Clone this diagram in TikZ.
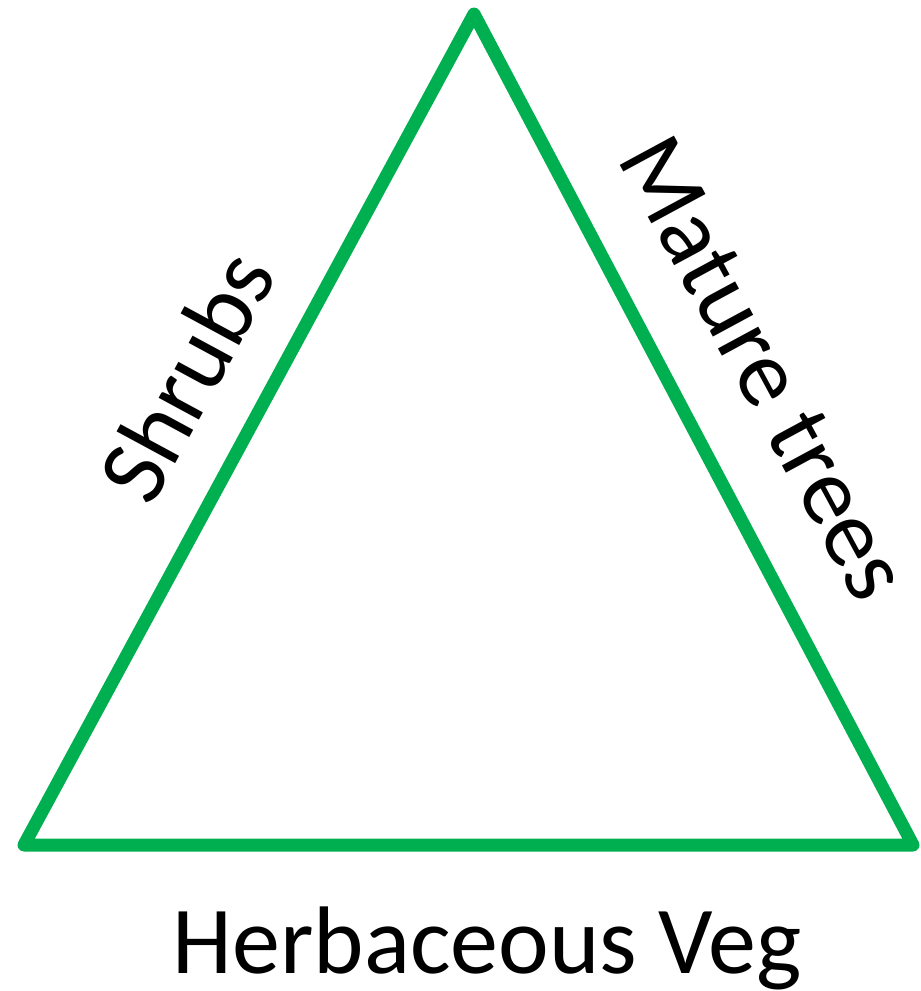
\documentclass[tikz,border=0pt]{standalone}
\usepackage{fontspec}
\setmainfont{Carlito}
\usepackage{xcolor}
\usepackage{tikz}
\definecolor{leafgreen}{HTML}{00B050}

\begin{document}
\begin{tikzpicture}[
    x=1pt, y=-1pt,
    font=\fontsize{96}{115}\selectfont,
    edge/.style={draw=leafgreen, line width=13pt, line join=round, line cap=round},
    label/.style={inner sep=0pt, anchor=center}
]
\useasboundingbox (0,0) rectangle (921,991);
\coordinate (top) at (474,14);
\coordinate (left) at (24,845);
\coordinate (right) at (913,845);

\draw[edge] (top) -- (right) -- (left) -- cycle;

\node[label, rotate=61.6] (shrubs) at (186,376) {Shrubs};
\node[label, rotate=-61.6] (trees) at (764,368) {Mature trees};
\node[label] (herb) at (487,948) {Herbaceous Veg};
\end{tikzpicture}
\end{document}
